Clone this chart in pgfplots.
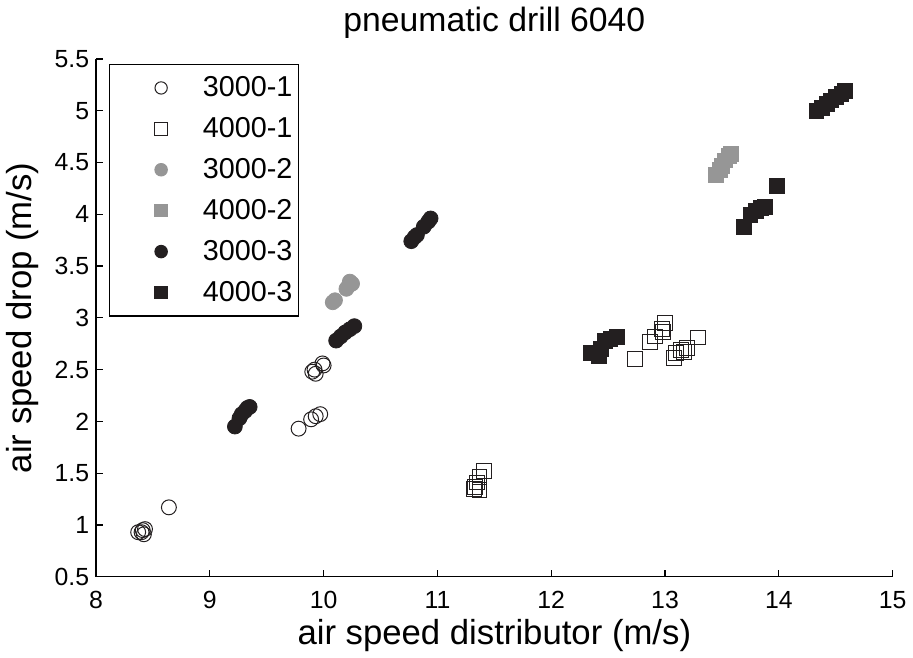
\documentclass[border=0pt]{standalone}
\usepackage{fontspec}
\setmainfont{Liberation Sans}
\usepackage{pgfplots}
\pgfplotsset{compat=1.18}
\definecolor{dk}{RGB}{35,31,32}
\definecolor{gr}{RGB}{150,150,150}

\begin{document}
\begin{tikzpicture}
\begin{axis}[
  width=401.5pt, height=261pt, scale only axis,
  xmin=8, xmax=15, ymin=0.5, ymax=5.5,
  xtick={8,9,...,15},
  ytick={0.5,1,...,5.5},
  axis x line=bottom, axis y line=left,
  axis line style={-, line width=0.6pt},
  tick align=inside, major tick length=3.5pt,
  tick style={line width=0.6pt, black},
  /pgf/number format/assume math mode=true,
  yticklabel style={/pgf/number format/fixed, /pgf/number format/precision=1},
  xticklabel style={yshift=-4pt},
  tick label style={font=\fontsize{12.5}{14}\selectfont},
  xlabel={air speed distributor (m/s)},
  ylabel={air speed drop (m/s)},
  label style={font=\fontsize{17.5}{20}\selectfont},
  xlabel style={yshift=2pt},
  ylabel style={yshift=1pt},
  title={pneumatic drill 6040},
  title style={font=\fontsize{17}{20}\selectfont, yshift=1pt},
  legend cell align=left,
  legend image code/.code={%
    \path[draw=none, fill=none] (0pt,-4pt) (44pt,4pt);
    \draw[#1, mark size=3.1pt] plot coordinates {(25pt,0pt)};},
  legend style={at={(0,1)}, anchor=north west, xshift=6.5pt, yshift=-2.5pt,
    font=\fontsize{14.5}{17}\selectfont, draw=black, line width=0.6pt,
    row sep=5pt, inner xsep=1pt, inner ysep=4pt},
]
% 3000-1
\addplot[only marks, mark=o, mark size=3.75pt, draw=dk, line width=0.5pt] coordinates {
(8.37,0.93) (8.40,0.93) (8.43,0.96) (8.42,0.91) (8.41,0.95) (8.64,1.17)
(9.78,1.93) (9.89,2.02) (9.93,2.05) (9.97,2.07)
(9.90,2.48) (9.92,2.50) (9.93,2.46) (9.99,2.56) (10.00,2.54)
};
\addlegendentry{3000-1}
% 4000-1
\addplot[only marks, mark=square, mark size=3.75pt, draw=dk, line width=0.5pt] coordinates {
(11.32,1.35) (11.35,1.41) (11.37,1.46) (11.41,1.52) (11.33,1.37) (11.37,1.34)
(12.74,2.60) (12.87,2.77) (12.91,2.82) (12.98,2.86) (13.00,2.95) (12.97,2.89)
(13.08,2.61) (13.10,2.66) (13.14,2.69) (13.17,2.67) (13.19,2.71) (13.29,2.81)
};
\addlegendentry{4000-1}
% 3000-2
\addplot[only marks, mark=*, mark size=3.75pt, draw=gr, fill=gr] coordinates {
(10.08,3.15) (10.10,3.17) (10.20,3.28) (10.22,3.31) (10.25,3.33) (10.23,3.35)
};
\addlegendentry{3000-2}
% 4000-2
\addplot[only marks, mark=square*, mark size=3.75pt, draw=gr, fill=gr] coordinates {
(13.45,4.38) (13.48,4.43) (13.50,4.47) (13.53,4.52) (13.56,4.56) (13.58,4.58)
};
\addlegendentry{4000-2}
% 3000-3
\addplot[only marks, mark=*, mark size=3.75pt, draw=dk, fill=dk] coordinates {
(9.22,1.95) (9.26,2.03) (9.28,2.07) (9.31,2.10) (9.33,2.13) (9.35,2.14)
(10.11,2.78) (10.15,2.82) (10.19,2.86) (10.23,2.89) (10.27,2.92)
(10.77,3.74) (10.80,3.78) (10.82,3.80) (10.88,3.88) (10.92,3.93) (10.94,3.96)
};
\addlegendentry{3000-3}
% 4000-3
\addplot[only marks, mark=square*, mark size=3.75pt, draw=dk, fill=dk] coordinates {
(12.35,2.66) (12.42,2.63) (12.44,2.70) (12.47,2.78) (12.52,2.80) (12.58,2.82)
(13.69,3.88) (13.75,3.99) (13.80,4.03) (13.84,4.06) (13.88,4.07) (13.98,4.27)
(14.33,5.00) (14.38,5.03) (14.42,5.07) (14.46,5.10) (14.50,5.13) (14.55,5.16) (14.58,5.19)
};
\addlegendentry{4000-3}
\end{axis}
\end{tikzpicture}
\end{document}
